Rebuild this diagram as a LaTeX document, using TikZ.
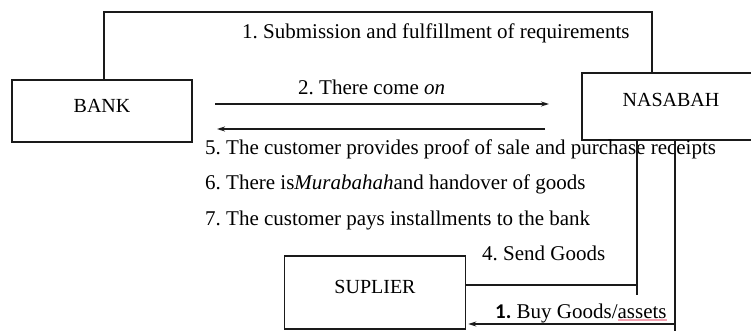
\documentclass[tikz,border=0pt]{standalone}
\usepackage{fontspec}
\setmainfont{Liberation Serif}
\newfontfamily\calibrifont{Carlito}
\usepackage{tikz}
\usetikzlibrary{
    arrows.meta,
    positioning,
    calc
}
\frenchspacing
\definecolor{boxborder}{HTML}{1A1A1A}
\definecolor{spellred}{HTML}{F4A0B0}
\tikzset{
    party/.style={
        rectangle, draw=boxborder, line width=1.5pt,
        inner sep=0pt, font=\fontsize{21}{25}\selectfont
    },
    link line/.style={
        line width=1.6pt, color=boxborder
    },
    data flow/.style={
        -{Stealth[length=8pt, width=5pt]}, line width=1.2pt, color=boxborder
    },
    step text/.style={
        anchor=base west, inner sep=0pt,
        font=\fontsize{21}{25}\selectfont
    },
}

\begin{document}
\begin{tikzpicture}[x=1pt, y=-1pt]
    \useasboundingbox (0,0) rectangle (751,331);

    \node[party, minimum width=180pt, minimum height=62pt,
          label={[yshift=5pt, font=\fontsize{20}{24}\selectfont]center:BANK}] (bank) at (102,111) {};
    \node[party, minimum width=178pt, minimum height=67pt,
          label={[yshift=6.5pt, font=\fontsize{20}{24}\selectfont]center:NASABAH}] (nasabah) at (671,106.5) {};
    \node[party, minimum width=181pt, minimum height=73pt,
          label={[yshift=5.5pt, font=\fontsize{20}{24}\selectfont]center:SUPLIER}] (suplier) at (375,292.5) {};

    % Step labels
    \node[step text] (s1) at (242,39) {1. Submission and fulfillment of requirements};
    \node[step text] (s2) at (298,95) {2. There come \textit{on}};
    \node[step text] (s5) at (205,154) {5. The customer provides proof of sale and purchase receipts};
    \node[step text] (s6) at (205,189) {6. There is\textit{Murabahah}and handover of goods};
    \node[step text] (s7) at (205,225) {7. The customer pays installments to the bank};
    \node[step text] (s4) at (482,260) {4. Send Goods};
    \node[step text] (s1b) at (495,318) {{\calibrifont\bfseries 1.} Buy Goods/assets};

    % Requirements line over the top
    \draw[link line] ([xshift=2pt]bank.north) |- (104,12) -| ([xshift=-19pt]nasabah.north);

    % Financing arrows
    \coordinate (f2s) at (215,104);
    \coordinate (f2e) at (549,104);
    \coordinate (f5s) at (545,129);
    \coordinate (f5e) at (217,129);
    \draw[data flow] (f2s) -- (f2e);
    \draw[data flow] (f5s) -- (f5e);

    % Goods lines
    \coordinate (g4) at (637,295);
    \draw[link line] (nasabah.south -| g4) -- (g4);
    \draw[link line] (suplier.east |- 0,285) -- (637,285);
    \coordinate (g1) at (675,335);
    \draw[link line] (nasabah.south -| g1) -- (g1);
    \draw[data flow] (675,324) -- ([xshift=2pt]suplier.east |- 0,324);

    % Spell-check underline
    \draw[spellred, line width=2.5pt] (s1b.base east) ++(-49,2) -- ++(49,0);
\end{tikzpicture}
\end{document}
